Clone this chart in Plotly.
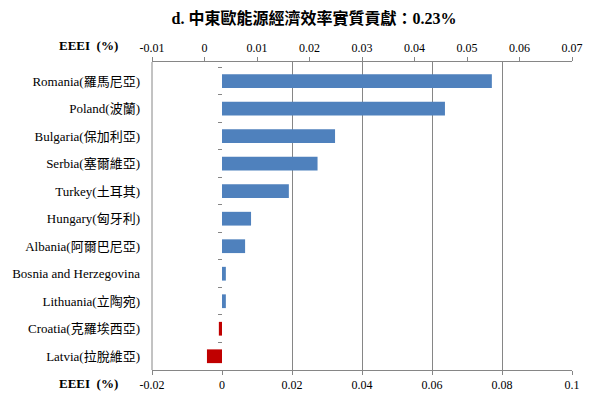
import plotly.graph_objects as go

categories = ["Romania(羅馬尼亞)", "Poland(波蘭)", "Bulgaria(保加利亞)", "Serbia(塞爾維亞)",
              "Turkey(土耳其)", "Hungary(匈牙利)", "Albania(阿爾巴尼亞)",
              "Bosnia and Herzegovina", "Lithuania(立陶宛)", "Croatia(克羅埃西亞)", "Latvia(拉脫維亞)"]
values = [0.0771, 0.0637, 0.0323, 0.0273, 0.0191, 0.0083, 0.0066, 0.0011, 0.0011, -0.0009, -0.0043]
bottom_ticks = [-0.02, 0, 0.02, 0.04, 0.06, 0.08, 0.1]
top_ticks = [-0.01, 0, 0.01, 0.02, 0.03, 0.04, 0.05, 0.06, 0.07]

BLUE = "#4F81BD"
RED = "#C00000"
GRID = "#868686"
SERIF = "Liberation Serif, Times New Roman, Noto Sans CJK TC, serif"

colors = [BLUE if v >= 0 else RED for v in values]

fig = go.Figure()
fig.add_trace(go.Bar(x=values, y=categories, orientation="h", marker=dict(color=colors, line=dict(width=0)),
                     width=0.5, showlegend=False))
# invisible helper so the secondary (top) axis is drawn
fig.add_trace(go.Scatter(x=[top_ticks[0]], y=[categories[0]], xaxis="x2", mode="markers",
                         marker=dict(opacity=0), showlegend=False, hoverinfo="skip"))

# the page body adds an 8px margin, so the figure is 8px smaller on each axis
fig.update_layout(
    width=588, height=390,
    margin=dict(l=144, r=24, t=54, b=28, autoexpand=False),
    paper_bgcolor="white", plot_bgcolor="white",
    title=dict(text="<b>d. 中東歐能源經濟效率實質貢獻：0.23%</b>", x=306 / 588, xref="container", xanchor="center",
               y=1 - 10 / 390, yref="container", yanchor="middle", automargin=False,
               font=dict(family=SERIF, size=16, color="black")),
    xaxis=dict(range=[-0.02, 0.1], tickvals=bottom_ticks, ticktext=[f"{t:g}" for t in bottom_ticks],
               showgrid=True, gridcolor=GRID, gridwidth=1, automargin=False,
               zeroline=True, zerolinecolor="white", zerolinewidth=1,
               showline=True, linecolor=GRID, ticks="outside", ticklen=4, tickcolor=GRID,
               tickfont=dict(family=SERIF, size=12, color="black"), domain=[0, 1]),
    xaxis2=dict(range=[-0.01, 0.07], tickvals=top_ticks, ticktext=[f"{t:g}" for t in top_ticks],
                overlaying="x", side="top", showgrid=False, zeroline=False, automargin=False,
                showline=True, linecolor=GRID, ticks="outside", ticklen=4, tickcolor=GRID,
                tickfont=dict(family=SERIF, size=12, color="black")),
    yaxis=dict(categoryorder="array", categoryarray=categories, autorange="reversed",
               anchor="free", position=1 / 6, showline=False, showgrid=False, zeroline=False,
               ticks="outside", ticklen=4, tickcolor=GRID, tickson="boundaries",
               ticklabelstandoff=82, automargin=False,
               tickfont=dict(family=SERIF, size=13, color="black")),
    shapes=[dict(type="line", xref="paper", yref="paper", x0=0, x1=0, y0=0, y1=1,
                 line=dict(color=GRID, width=1))],
    annotations=[
        dict(text="<b>EEEI  (%)</b>", xref="paper", yref="paper", x=-0.152, y=1, yshift=17,
             xanchor="center", yanchor="middle", showarrow=False,
             font=dict(family=SERIF, size=13, color="black")),
        dict(text="<b>EEEI  (%)</b>", xref="paper", yref="paper", x=-0.152, y=0, yshift=-13,
             xanchor="center", yanchor="middle", showarrow=False,
             font=dict(family=SERIF, size=13, color="black")),
    ],
)

fig.write_html("out.html")
